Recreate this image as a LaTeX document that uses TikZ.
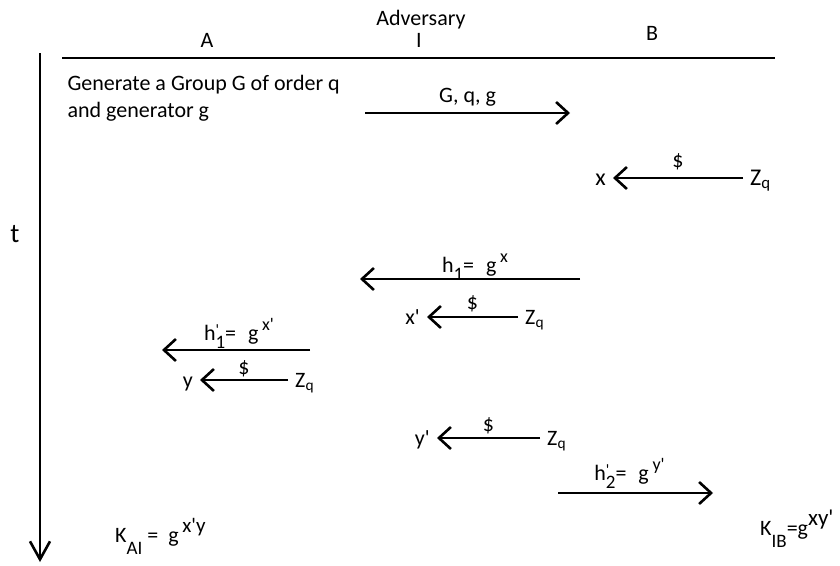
\documentclass[tikz,border=0pt]{standalone}
\usepackage{fontspec}
\setmainfont{Carlito}
\usetikzlibrary{arrows.meta}
\newcommand{\pr}{\textquotesingle}
\newcommand{\lo}[2][19]{\raisebox{-8pt}{\fontsize{#1}{#1}\selectfont #2}}
\newcommand{\klo}[1]{\raisebox{-12pt}{\fontsize{19}{19}\selectfont #1}}
\newcommand{\hi}[2][18]{\raisebox{10pt}{\fontsize{#1}{#1}\selectfont #2}}
\newcommand{\hpr}[1]{h\rlap{\raisebox{5pt}{\fontsize{16}{16}\selectfont\pr}}\lo{#1}}
\newcommand{\Zq}{Z\textsubscript{q}}

\begin{document}
\begin{tikzpicture}[x=1pt,y=-1pt,
    every node/.style={font=\fontsize{22}{27}\selectfont},
    msg/.style={line width=2.6pt,-{Straight Barb[length=12pt,width=22pt]}},
    ends/.style={text height=14pt,text depth=0pt,inner xsep=7pt,inner ysep=0pt},
    lab/.style={midway,anchor=base,yshift=#1},
    lab/.default=10pt]
  \useasboundingbox (0,0) rectangle (840,565);
  % parties and header line
  \node[anchor=base] (pA) at (207,47) {A};
  \node[anchor=base] (adv) at (421,25) {Adversary};
  \node[anchor=base] (pI) at (419,47) {I};
  \node[anchor=base] (pB) at (652,40) {B};
  \coordinate (hl) at (62,58);
  \coordinate (hr) at (775,58);
  \draw[line width=2.8pt] (hl) -- (hr);
  % time axis
  \coordinate (t0) at (40,53);
  \coordinate (t1) at (40,562);
  \draw[line width=2.6pt,-{Straight Barb[length=18pt,width=20pt]}] (t0) -- (t1);
  \node[font=\fontsize{27}{30}\selectfont,anchor=base] (t) at (15,242) {t};
  % setup by A
  \node[anchor=base west,align=left] (gen) at (64,117) {Generate a Group G of order q\\and generator g};
  \coordinate (m1s) at (365,113);
  \coordinate (m1e) at (570,113);
  \draw[msg] (m1s) -- (m1e) node[lab=11pt] (m1l) {G, q, g};
  % B picks x
  \node[ends,font=\fontsize{24}{27}\selectfont,anchor=west] (zq1) at (743,178) {\Zq};
  \node[ends,font=\fontsize{24}{27}\selectfont,anchor=east] (x1) at (613,178) {x};
  \draw[msg] (zq1) -- (x1) node[lab=11pt] (r1) {\$};
  % h1 intercepted by I
  \coordinate (m2s) at (580,279);
  \coordinate (m2e) at (360,279);
  \draw[msg] (m2s) -- (m2e) node[lab=7pt,xshift=5pt] (m2l) {h\lo{1}=\hspace{12pt}g\,\hi{x}};
  \node[ends,anchor=west] (zq2) at (518,317) {\Zq};
  \node[ends,anchor=east] (x2) at (427,317) {x\pr};
  \draw[msg] (zq2) -- (x2) node[lab=8pt] (r2) {\$};
  % I to A
  \coordinate (m3s) at (310,350);
  \coordinate (m3e) at (162,350);
  \draw[msg] (m3s) -- (m3e) node[lab=10pt,xshift=3pt] (m3l) {\hpr{1}=\hspace{12pt}g\,\hi{x\pr}};
  \node[ends,anchor=west] (zq3) at (288,380) {\Zq};
  \node[ends,anchor=east] (y3) at (200,380) {y};
  \draw[msg] (zq3) -- (y3) node[lab=6pt] (r3) {\$};
  % I to B
  \node[ends,anchor=west] (zq4) at (540,438) {\Zq};
  \node[ends,anchor=east] (y4) at (437,438) {y\pr};
  \draw[msg] (zq4) -- (y4) node[lab=7pt] (r4) {\$};
  \coordinate (m4s) at (558,493);
  \coordinate (m4e) at (713,493);
  \draw[msg] (m4s) -- (m4e) node[lab=13pt,xshift=-6pt] (m4l) {\hpr{2}=\hspace{12pt}g\,\hi{y\pr}};
  % keys
  \node[anchor=base west,inner sep=0pt] (kai) at (115,542) {K\klo{AI}\ =\ \ g\,\hi[21]{x\pr y}};
  \node[anchor=base west,inner sep=0pt] (kib) at (760,535) {K\klo{IB}=g\hi[23]{xy\pr}};
\end{tikzpicture}
\end{document}
